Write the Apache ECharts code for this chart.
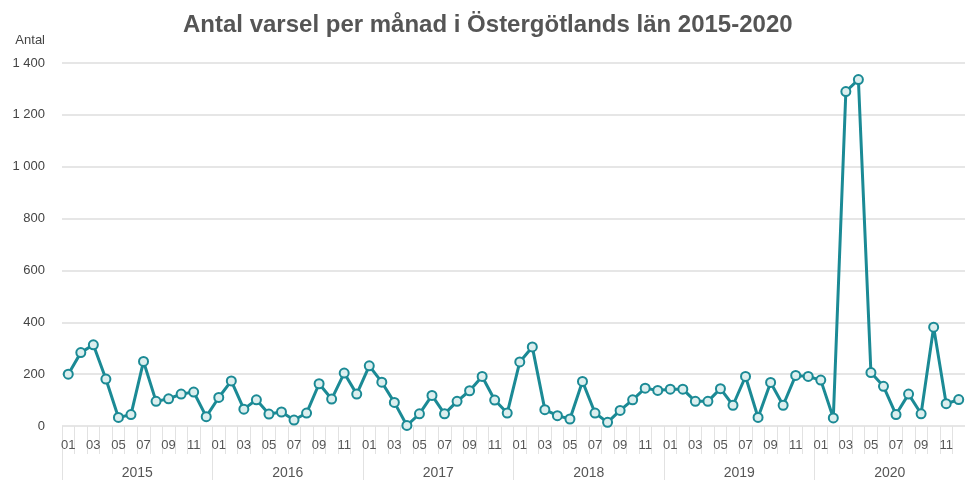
<!DOCTYPE html>
<html>
<head>
<meta charset="utf-8">
<script src="https://cdn.jsdelivr.net/npm/echarts@6/dist/echarts.min.js"></script>
<style>
  html, body { margin: 0; padding: 0; background: #fff; }
  #chart { width: 965px; height: 480px; }
</style>
</head>
<body>
<div id="chart"></div>
<script>
// manader och ar
var years = ['2015', '2016', '2017', '2018', '2019', '2020'];
var monthNames = ['01','02','03','04','05','06','07','08','09','10','11','12'];

// antal varsel per manad, avlasta fran bilden
var v2015 = [200, 283, 313, 181, 33, 44, 249, 95, 105, 123, 131, 36];
var v2016 = [110, 174, 65, 101, 46, 54, 23, 50, 163, 104, 204, 123];
var v2017 = [232, 169, 91, 2, 47, 118, 47, 95, 136, 191, 100, 50];
var v2018 = [247, 305, 63, 40, 27, 172, 50, 14, 60, 101, 146, 137];
var v2019 = [142, 142, 95, 95, 144, 80, 191, 33, 168, 80, 195, 191];
var v2020 = [177, 31, 1290, 1336, 206, 153, 44, 123, 47, 381, 86, 102];

var yTicks = [0, 200, 400, 600, 800, 1000, 1200, 1400];

var months = [];
years.forEach(function (y) {
  monthNames.forEach(function (m) { months.push(m); });
});
var values = [].concat(v2015, v2016, v2017, v2018, v2019, v2020);

var teal = '#1b8a95';
var font = 'Liberation Sans, Arial, sans-serif';
var myChart = echarts.init(document.getElementById('chart'));
myChart.setOption({
  animation: false,
  backgroundColor: '#fff',
  title: {
    text: 'Antal varsel per månad i Östergötlands län 2015-2020',
    left: 178,
    top: 8,
    textStyle: {
      fontFamily: font,
      fontSize: 24,
      fontWeight: 'bold',
      color: '#555'
    }
  },
  grid: {
    left: 62,
    top: 63,
    width: 909,
    height: 365
  },
  xAxis: [
    {
      type: 'category',
      data: months,
      boundaryGap: true,
      axisLine: { show: false },
      axisTick: {
        show: true,
        interval: 0,
        length: 28,
        lineStyle: { color: '#e2e2e2', width: 1 }
      },
      axisLabel: {
        interval: 1,
        margin: 13,
        fontFamily: font,
        fontSize: 13,
        color: '#555'
      }
    },
    {
      type: 'category',
      data: years,
      position: 'bottom',
      boundaryGap: true,
      axisLine: { show: false },
      axisTick: {
        show: true,
        length: 56,
        lineStyle: { color: '#e2e2e2', width: 1 }
      },
      axisLabel: {
        margin: 40,
        fontFamily: font,
        fontSize: 14,
        color: '#555'
      }
    }
  ],
  yAxis: {
    type: 'value',
    min: yTicks[0],
    max: yTicks[yTicks.length - 1],
    interval: 200,
    name: 'Antal',
    nameLocation: 'end',
    nameGap: 16,
    nameTextStyle: {
      align: 'right',
      padding: [0, 17, 0, 0],
      fontFamily: font,
      fontSize: 13,
      color: '#444'
    },
    axisLine: { show: false },
    axisTick: { show: false },
    axisLabel: {
      margin: 17,
      fontFamily: font,
      fontSize: 13,
      color: '#444',
      formatter: function (v) {
        return String(v).replace(/\B(?=(\d{3})+(?!\d))/g, ' ');
      }
    },
    splitLine: { lineStyle: { color: '#e6e6e6', width: 2 } }
  },
  series: [
    {
      name: 'Antal',
      type: 'line',
      xAxisIndex: 0,
      data: values,
      symbol: 'circle',
      symbolSize: 9,
      showAllSymbol: true,
      lineStyle: { color: teal, width: 3 },
      itemStyle: { color: '#dcefef', borderColor: teal, borderWidth: 2 }
    }
  ]
});
</script>
</body>
</html>
